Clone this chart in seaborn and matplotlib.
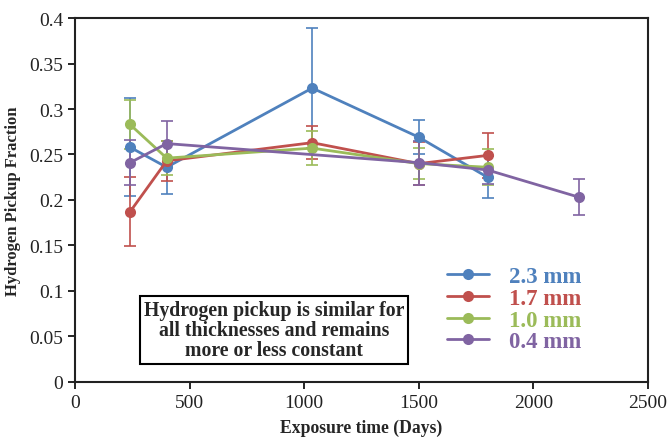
import numpy as np
import pandas as pd
import matplotlib.pyplot as plt
import seaborn as sns

# datos
dias_23 = [240, 400, 1035, 1500, 1800]
frac_23 = [0.258, 0.236, 0.323, 0.269, 0.225]
err_23 = [0.054, 0.029, 0.066, 0.019, 0.023]

dias_17 = [240, 400, 1035, 1500, 1800]
frac_17 = [0.187, 0.243, 0.263, 0.240, 0.249]
err_17 = [0.038, 0.022, 0.018, 0.024, 0.025]

dias_10 = [240, 400, 1035, 1500, 1800]
frac_10 = [0.283, 0.246, 0.257, 0.240, 0.236]
err_10 = [0.027, 0.019, 0.019, 0.017, 0.020]

dias_04 = [240, 400, 1500, 1800, 2200]
frac_04 = [0.241, 0.262, 0.241, 0.233, 0.203]
err_04 = [0.025, 0.025, 0.024, 0.015, 0.020]

etiquetas = ["2.3 mm", "1.7 mm", "1.0 mm", "0.4 mm"]
colores = ["#4F81BD", "#C0504D", "#9BBB59", "#8064A2"]

series = [(dias_23, frac_23, err_23), (dias_17, frac_17, err_17),
          (dias_10, frac_10, err_10), (dias_04, frac_04, err_04)]

df = pd.concat([pd.DataFrame({"Dias": d, "Frac": f, "Err": e, "Espesor": lab})
                for (d, f, e), lab in zip(series, etiquetas)], ignore_index=True)

sns.set_style("ticks")
plt.rcParams["font.family"] = ["Liberation Serif", "DejaVu Serif"]

fig = plt.figure(figsize=(6.68, 4.39), dpi=100)
ax = fig.add_axes([0.1123, 0.1276, 0.8577, 0.8291])

for lab, col in zip(etiquetas, colores):
    sub = df[df["Espesor"] == lab]
    ax.errorbar(sub["Dias"], sub["Frac"], yerr=sub["Err"], fmt="none",
                ecolor=col, elinewidth=1.2, capsize=4, capthick=1.2)

sns.lineplot(data=df, x="Dias", y="Frac", hue="Espesor", palette=colores,
             hue_order=etiquetas, estimator=None, sort=False, marker="o",
             markersize=8, markeredgewidth=0, linewidth=2, ax=ax)

ax.set_xlim(0, 2500)
ax.set_ylim(0, 0.4)
ax.set_xticks(np.arange(0, 2501, 500))
ax.set_yticks(np.arange(0, 0.401, 0.05))
ax.set_yticklabels(["0", "0.05", "0.1", "0.15", "0.2", "0.25", "0.3", "0.35", "0.4"])
ax.tick_params(labelsize=14, length=5, width=1.2, color="black", labelcolor="#222222")
for s in ax.spines.values():
    s.set_linewidth(1.5)
    s.set_color("#222222")

ax.set_xlabel("Exposure time (Days)", fontsize=12.7, fontweight="bold", labelpad=6)
ax.set_ylabel("Hydrogen Pickup Fraction", fontsize=12, fontweight="bold", labelpad=6)

ax.legend(loc="upper left", bbox_to_anchor=(0.614, 0.375), frameon=False,
          prop={"weight": "bold", "size": 16.5}, labelcolor="linecolor",
          handlelength=1.8, handletextpad=0.9, labelspacing=0.03)

ax.text(0.347, 0.143, "Hydrogen pickup is similar for\nall thicknesses and remains\nmore or less constant",
        transform=ax.transAxes, ha="center", va="center", multialignment="center",
        fontsize=14.2, fontweight="bold", linespacing=1.0,
        bbox=dict(boxstyle="square,pad=0.2", facecolor="white", edgecolor="black", linewidth=1.5))

plt.savefig("out.png", dpi=100)
